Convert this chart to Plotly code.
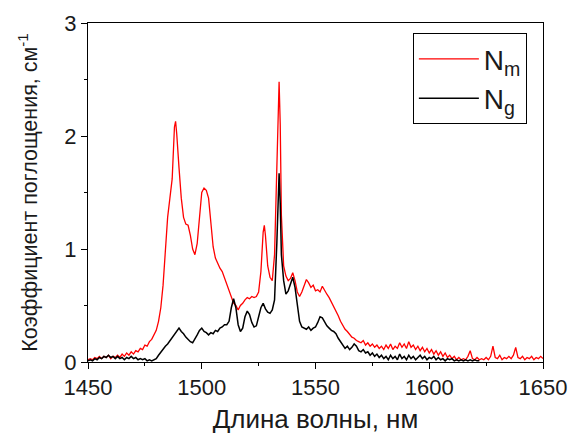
import plotly.graph_objects as go

wl_red = [1450,1451,1452,1453,1454,1455,1456,1457,1458,1459,1460,1461,1462,1463,1464,1465,1466,1467,1468,1469,
          1470,1471,1472,1473,1474,1475,1476,1477,1478,1479,1480,1481,1482,1483,1484,1485,1486,1487,1487.5,1488,
          1488.5,1489,1490,1491,1492,1493,1494,1495,1496,1497,1498,1499,1500,1501,1502,1503,1504,1505,1506,1507,
          1508,1509,1510,1511,1512,1513,1514,1515,1516,1517,1518,1519,1520,1521,1522,1523,1524,1525,1526,1527,
          1527.5,1528,1529,1530,1531,1532,1533,1533.5,1534,1534.5,1535,1536,1537,1538,1539,1540,1541,1542,1543,1544,
          1545,1546,1547,1548,1549,1550,1551,1552,1553,1554,1555,1556,1557,1558,1559,1560,1561,1562,1563,1564,
          1565,1566,1567,1568,1569,1570,1571,1572,1573,1574,1575,1576,1577,1578,1579,1580,1581,1582,1583,1584,
          1585,1586,1587,1588,1589,1590,1591,1592,1593,1594,1595,1596,1597,1598,1599,1600,1601,1602,1603,1604,
          1605,1606,1607,1608,1609,1610,1611,1612,1613,1614,1615,1616,1617,1618,1619,1620,1621,1622,1623,1624,
          1625,1626,1627,1628,1629,1630,1631,1632,1633,1634,1635,1636,1637,1638,1639,1640,1641,1642,1643,1644,
          1645,1646,1647,1648,1649,1650]
n_m = [0.02,0.03,0.02,0.04,0.03,0.05,0.03,0.05,0.04,0.06,0.03,0.05,0.04,0.06,0.04,0.07,0.05,0.08,0.06,0.09,
       0.07,0.10,0.09,0.12,0.11,0.15,0.14,0.18,0.20,0.24,0.28,0.36,0.48,0.68,0.95,1.28,1.45,1.62,1.85,2.08,
       2.13,2.02,1.72,1.45,1.28,1.22,1.21,1.12,1.00,0.95,1.05,1.30,1.50,1.54,1.52,1.45,1.22,1.02,0.92,0.87,
       0.83,0.80,0.74,0.68,0.62,0.57,0.52,0.50,0.46,0.50,0.52,0.55,0.57,0.56,0.58,0.57,0.58,0.62,0.80,1.15,
       1.21,1.12,0.85,0.75,0.72,0.95,1.70,2.30,2.48,2.10,1.30,0.85,0.76,0.72,0.74,0.79,0.72,0.62,0.58,0.62,
       0.68,0.73,0.70,0.66,0.68,0.63,0.64,0.62,0.67,0.63,0.60,0.57,0.53,0.50,0.45,0.41,0.36,0.32,0.29,0.27,
       0.24,0.22,0.21,0.19,0.18,0.17,0.19,0.15,0.17,0.14,0.16,0.13,0.15,0.12,0.14,0.11,0.15,0.12,0.16,0.11,
       0.14,0.12,0.17,0.13,0.16,0.12,0.18,0.13,0.15,0.11,0.14,0.10,0.13,0.09,0.12,0.08,0.11,0.07,0.10,0.06,
       0.09,0.05,0.08,0.04,0.06,0.03,0.05,0.02,0.04,0.02,0.03,0.02,0.05,0.10,0.03,0.02,0.04,0.02,0.03,0.02,
       0.04,0.02,0.05,0.14,0.04,0.03,0.06,0.02,0.04,0.03,0.05,0.03,0.06,0.13,0.04,0.03,0.05,0.02,0.04,0.03,
       0.05,0.02,0.04,0.03,0.05,0.03]

wl_black = [1450,1451,1452,1453,1454,1455,1456,1457,1458,1459,1460,1461,1462,1463,1464,1465,1466,1467,1468,1469,
            1470,1471,1472,1473,1474,1475,1476,1477,1478,1479,1480,1481,1482,1483,1484,1485,1486,1487,1488,1489,
            1490,1491,1492,1493,1494,1495,1496,1497,1498,1499,1500,1501,1502,1503,1504,1505,1506,1507,1508,1509,
            1510,1511,1512,1513,1514,1515,1516,1517,1518,1519,1520,1521,1522,1523,1524,1525,1526,1527,1528,1529,
            1530,1531,1532,1533,1533.5,1534,1534.5,1535,1536,1537,1538,1539,1540,1541,1542,1543,1544,1545,1546,1547,
            1548,1549,1550,1551,1552,1553,1554,1555,1556,1557,1558,1559,1560,1561,1562,1563,1564,1565,1566,1567,
            1568,1569,1570,1571,1572,1573,1574,1575,1576,1577,1578,1579,1580,1581,1582,1583,1584,1585,1586,1587,
            1588,1589,1590,1591,1592,1593,1594,1595,1596,1597,1598,1599,1600,1601,1602,1603,1604,1605,1606,1607,
            1608,1609,1610,1611,1612,1613,1614,1615,1616,1617,1618,1619,1620,1621,1622]
n_g = [0.01,0.02,0.01,0.03,0.02,0.04,0.03,0.05,0.04,0.06,0.04,0.05,0.03,0.05,0.03,0.04,0.02,0.04,0.03,0.05,
       0.03,0.04,0.02,0.03,0.02,0.03,0.01,0.02,0.01,0.02,0.03,0.06,0.09,0.11,0.14,0.16,0.19,0.21,0.24,0.27,
       0.30,0.27,0.25,0.22,0.20,0.18,0.17,0.20,0.24,0.28,0.30,0.27,0.26,0.24,0.26,0.25,0.28,0.27,0.30,0.31,
       0.33,0.33,0.36,0.48,0.56,0.48,0.33,0.27,0.30,0.40,0.45,0.42,0.35,0.31,0.32,0.40,0.48,0.52,0.47,0.44,
       0.43,0.46,0.55,1.05,1.45,1.67,1.40,0.95,0.72,0.60,0.63,0.70,0.75,0.66,0.48,0.36,0.31,0.30,0.29,0.31,
       0.28,0.30,0.31,0.35,0.40,0.39,0.35,0.32,0.30,0.28,0.27,0.25,0.21,0.18,0.15,0.12,0.14,0.11,0.13,0.16,
       0.14,0.10,0.09,0.11,0.08,0.09,0.06,0.08,0.05,0.07,0.04,0.06,0.03,0.05,0.02,0.06,0.03,0.05,0.02,0.07,
       0.03,0.05,0.02,0.06,0.03,0.05,0.02,0.04,0.06,0.03,0.05,0.02,0.04,0.03,0.05,0.02,0.04,0.02,0.03,0.01,
       0.03,0.02,0.03,0.01,0.02,0.01,0.02,0.01,0.02,0.01,0.02,0.01,0.02,0.01,0.01]

x_ticks = [1450, 1500, 1550, 1600, 1650]
y_ticks = [0, 1, 2, 3]

FONT = "Liberation Sans, Arial, sans-serif"
TXT = "#1a1a1a"

fig = go.Figure()
fig.add_trace(go.Scatter(x=wl_red, y=n_m, mode="lines", name="N<sub>m</sub>",
                         line=dict(color="#ff0000", width=1.3)))
fig.add_trace(go.Scatter(x=wl_black, y=n_g, mode="lines", name="N<sub>g</sub>",
                         line=dict(color="#000000", width=1.5)))

axis_common = dict(showline=True, linecolor="black", linewidth=1, mirror=True,
                   ticks="outside", ticklen=6, tickcolor="black", tickwidth=1,
                   showgrid=False, zeroline=False, automargin=False,
                   tickfont=dict(family=FONT, size=22, color=TXT))

fig.update_xaxes(range=[1450, 1650], tickvals=x_ticks,
                 minor=dict(ticks="outside", ticklen=3, tickcolor="black", dtick=25, tick0=1450),
                 title=dict(text="Длина волны, нм", font=dict(family=FONT, size=26, color=TXT), standoff=17),
                 **axis_common)
fig.update_yaxes(range=[0, 3], tickvals=y_ticks,
                 minor=dict(ticks="outside", ticklen=3, tickcolor="black", dtick=0.5, tick0=0),
                 title=dict(text="Коэффициент поглощения, см<sup>-1</sup>",
                            font=dict(family=FONT, size=21.5, color=TXT), standoff=20),
                 **axis_common)

fig.update_layout(
    width=568, height=434,
    margin=dict(l=88, r=25, t=23, b=72),
    paper_bgcolor="white", plot_bgcolor="white",
    legend=dict(x=0.714, y=0.97, xanchor="left", yanchor="top",
                bordercolor="black", borderwidth=1, bgcolor="white",
                font=dict(family=FONT, size=28, color=TXT),
                itemwidth=60, tracegroupgap=0),
    showlegend=True,
)

fig.write_html("out.html")
